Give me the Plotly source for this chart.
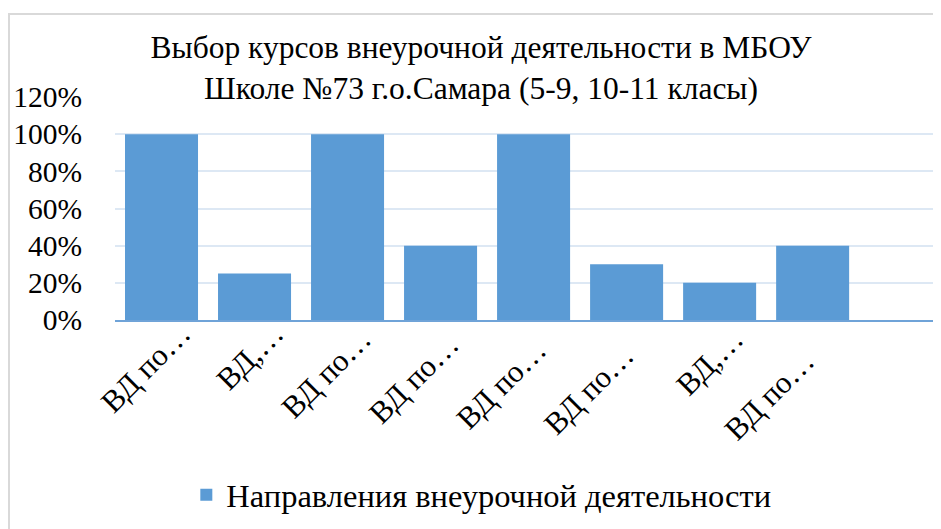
import plotly.graph_objects as go

categories = ["ВД по…", "ВД,…", "ВД по… ", "ВД по…  ", "ВД по…   ", "ВД по…    ", "ВД,… ", "ВД по…     ", " "]
values = [1.00, 0.25, 1.00, 0.40, 1.00, 0.30, 0.20, 0.40, 0.0]
series_name = "Направления внеурочной деятельности"
title_text = "Выбор курсов внеурочной деятельности в МБОУ<br>Школе №73 г.о.Самара (5-9, 10-11 класы)"
ytick_vals = [0, 0.2, 0.4, 0.6, 0.8, 1.0, 1.2]
ytick_text = ["0%", "20%", "40%", "60%", "80%", "100%", "120%"]

FONT = "Liberation Serif, Times New Roman, serif"
BAR = "#5b9bd5"

fig = go.Figure()
fig.add_trace(go.Bar(
    x=categories, y=values, name=series_name,
    marker=dict(color=BAR, line=dict(width=0)),
    showlegend=True,
))

OFF = 8  # page offset of the figure in the browser
W, H = 941, 529
L, T, B = 115 - OFF, 97 - OFF, 320 - OFF
PW = 941 - OFF - L
fig.update_layout(
    width=W, height=H,
    margin=dict(l=L, r=W - L - PW, t=T, b=H - B, autoexpand=False),
    paper_bgcolor="white", plot_bgcolor="white",
    font=dict(family=FONT, color="black", size=29),
    bargap=0.215,
    title=dict(text=title_text, x=473 / W, xref="container", xanchor="center",
               y=1 - 50 / H, yref="container", yanchor="middle",
               font=dict(family=FONT, size=31.5, color="black")),
    showlegend=True,
    legend=dict(orientation="h", xref="container", yref="container",
                x=0.503, xanchor="center", y=1 - 487 / H, yanchor="middle",
                font=dict(family=FONT, size=32.5, color="black")),
    xaxis=dict(range=[-0.5, 8.38], tickangle=-45, showgrid=False, automargin=False,
               showline=True, linecolor="#6fa3d8", linewidth=2,
               ticks="", ticklabelstandoff=-19, ticklabelshift=20,
               tickfont=dict(family=FONT, size=31)),
    yaxis=dict(range=[0, 1.2], tickvals=ytick_vals, ticktext=ytick_text, automargin=False,
               showgrid=True, gridcolor="#dde8f4", gridwidth=2,
               zeroline=False, showline=False, ticks="",
               ticklabelstandoff=32, tickfont=dict(family=FONT, size=29.5)),
    shapes=[dict(type="rect", xref="paper", yref="paper",
                 x0=(9 - OFF - L) / PW, x1=1.2,
                 y0=-2, y1=(B - (14 - OFF)) / (B - T),
                 line=dict(color="#d9d9d9", width=2), layer="below")],
)

fig.write_html("out.html")
